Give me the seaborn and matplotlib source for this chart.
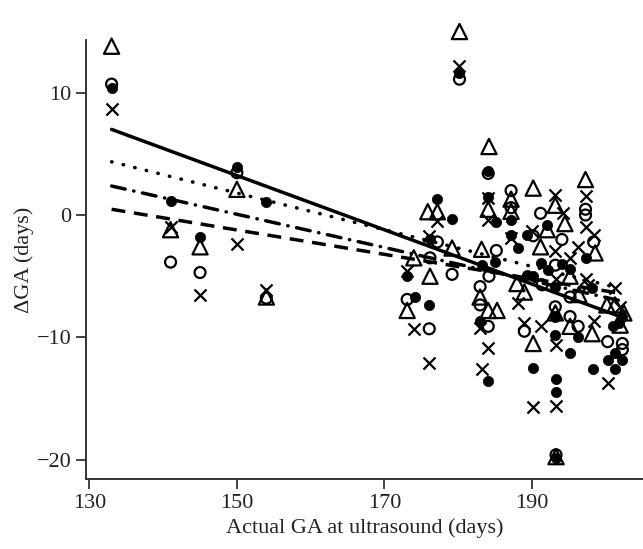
import matplotlib
matplotlib.use("Agg")
import matplotlib.pyplot as plt
import seaborn as sns

# Open triangles
tri_x = [133, 141, 145, 150, 154, 173.1, 174.0, 175.9, 177.2, 176.2, 179.2, 180.2,
         183.2, 183.0, 184.1, 185.3, 184.2, 184.1, 187.2, 187.2, 188.0, 189.0,
         190.2, 190.2, 191.2, 192.1, 193.2, 193.2, 193.3, 194.5, 195.2, 195.2,
         196.4, 197.3, 198.6, 198.2, 200.2, 201.3, 202.5, 202.0]
tri_y = [13.8, -1.2, -2.6, 2.1, -6.7, -7.8, -3.5, 0.27, 0.27, -5.0, -2.7, 15.0,
         -2.8, -6.7, -7.8, -7.8, 5.6, 0.47, 1.3, 0.3, -5.6, -6.3,
         2.2, -10.5, -2.6, -1.2, 0.8, -8.0, -19.75, -0.7, -5.0, -9.1,
         -6.5, 2.9, -3.1, -9.7, -7.35, -7.35, -8.0, -9.0]

# Open circles
ring_x = [133, 141, 145, 150, 154, 173.1, 176.2, 177.2, 176.1, 179.2, 180.2,
          183.0, 183.0, 184.1, 184.2, 184.1, 185.2, 187.2, 187.2, 189.0, 190.2,
          191.2, 191.4, 193.2, 193.2, 193.3, 194.1, 195.2, 195.2, 196.3, 197.3,
          197.3, 198.4, 200.3, 202.3, 202.3]
ring_y = [10.7, -3.85, -4.7, 3.46, -6.8, -6.9, -3.5, -2.2, -9.3, -4.85, 11.1,
          -5.85, -7.35, 3.4, -5.0, -9.1, -2.9, 2.0, 0.6, -9.5, -1.7,
          0.14, -5.7, -4.1, -7.5, -19.6, -2.0, -6.7, -8.3, -9.1, 0.47,
          0.0, -2.2, -10.35, -10.5, -11.0]

# Filled circles
dot_x = [133, 141, 145, 150, 154, 173.1, 174.2, 176.1, 176.2, 177.2, 179.2, 180.2,
         183.0, 183.2, 184.1, 184.1, 184.1, 185.0, 185.2, 187.2, 187.2, 188.1,
         189.3, 189.3, 190.2, 190.2, 191.2, 192.1, 192.2, 193.2, 193.2, 193.2,
         193.3, 193.3, 193.3, 194.1, 195.2, 195.2, 196.3, 197.3, 198.2, 198.3,
         200.3, 201.0, 201.3, 201.3, 201.9, 202.3, 202.3]
dot_y = [10.35, 1.14, -1.77, 3.9, 1.09, -5.0, -6.7, -7.35, -2.0, 1.28, -0.35, 11.6,
         -8.7, -4.1, 1.5, 3.6, -13.6, -3.8, -0.55, -0.4, -1.6, -2.7,
         -1.6, -4.9, -5.0, -12.5, -3.95, -0.8, -4.5, -5.85, -8.3, -9.8,
         -13.4, -14.5, -19.9, -4.0, -4.4, -11.25, -10.0, -3.5, -6.0, -12.6,
         -11.85, -9.1, -11.25, -12.6, -8.85, -11.85, -8.3]

# Crosses
cross_x = [133, 141, 145, 150, 154, 173.1, 174.0, 176.1, 176.1, 177.2, 180.2,
           183.0, 183.2, 184.1, 184.1, 184.1, 187.2, 188.1, 189.0, 190.0, 190.2,
           191.2, 193.2, 193.2, 193.3, 193.3, 193.3, 194.3, 195.2, 196.3, 197.3,
           197.3, 197.3, 197.7, 198.4, 198.4, 200.3, 201.3, 202.0]
cross_y = [8.7, -1.0, -6.5, -2.4, -6.1, -4.55, -9.3, -1.7, -12.1, -0.5, 12.2,
           -9.25, -12.6, 1.36, -0.4, -10.9, -1.9, -7.2, -8.85, -1.3, -15.7,
           -9.1, 1.6, -2.9, -5.2, -10.6, -15.6, 0.14, -3.5, -2.6, 1.55,
           -0.95, -5.2, -5.7, -1.6, -8.7, -13.75, -6.0, -7.5]

# Fitted lines (end points)
fit_x = [133, 202]
solid_y = [7.0, -8.3]
dotted_y = [4.35, -6.0]
dashdot_y = [2.37, -7.0]
dashed_y = [0.47, -6.4]

sns.set_style("ticks")
plt.rcParams['font.family'] = ['Liberation Serif', 'DejaVu Serif']

fig = plt.figure(figsize=(6.43, 5.49), dpi=100)
ax = fig.add_axes([0.134, 0.127, 0.866, 0.80])

lw = 1.6
sns.scatterplot(x=tri_x, y=tri_y, ax=ax, marker='^', s=120, facecolors='none',
                edgecolors='black', linewidth=lw, clip_on=False, zorder=3)
sns.scatterplot(x=ring_x, y=ring_y, ax=ax, marker='o', s=62, facecolors='none',
                edgecolors='black', linewidth=lw, clip_on=False, zorder=3)
sns.scatterplot(x=dot_x, y=dot_y, ax=ax, marker='o', s=55, color='black',
                edgecolor='black', linewidth=0.5, clip_on=False, zorder=3)
sns.scatterplot(x=cross_x, y=cross_y, ax=ax, marker='x', s=75, color='black',
                linewidth=lw, clip_on=False, zorder=3)

sns.lineplot(x=fit_x, y=solid_y, ax=ax, color='black', linewidth=2.5, linestyle='-')
sns.lineplot(x=fit_x, y=dotted_y, ax=ax, color='black', linewidth=2.6,
             linestyle=(0, (0.1, 3.2)), dash_capstyle='round')
sns.lineplot(x=fit_x, y=dashdot_y, ax=ax, color='black', linewidth=2.5,
             linestyle=(0, (4, 2.5, 0.1, 2.5)), dash_capstyle='round')
sns.lineplot(x=fit_x, y=dashed_y, ax=ax, color='black', linewidth=2.5,
             linestyle=(0, (4, 2.5)))

ax.set_xlim(129.55, 205.1)
ax.set_ylim(-21.6, 14.3)
ax.set_xticks([130, 150, 170, 190])
ax.set_yticks([10, 0, -10, -20])
ax.set_yticklabels(['10', '0', '\u221210', '\u221220'])
ax.tick_params(axis='both', direction='out', length=7, width=1.2,
               labelsize=16, colors='#222222')
for side in ['left', 'bottom']:
    ax.spines[side].set_linewidth(1.4)
    ax.spines[side].set_color('#333333')
sns.despine(ax=ax)

ax.set_xlabel('Actual GA at ultrasound (days)', fontsize=16, color='#222222')
ax.set_ylabel('\u0394GA (days)', fontsize=16, color='#222222', labelpad=2)

fig.savefig('out.png', dpi=100)
